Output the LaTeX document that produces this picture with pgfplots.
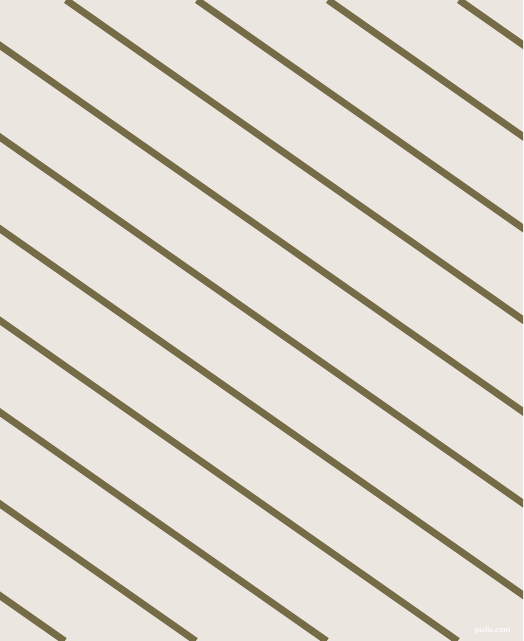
\documentclass[border=0pt]{standalone}
\usepackage{pgfplots}
\pgfplotsset{compat=1.18}
\definecolor{bg}{RGB}{236,230,225}
\definecolor{stripe}{RGB}{117,108,71}
\begin{document}
\begin{tikzpicture}
\begin{axis}[
    width=523pt, height=641pt, scale only axis,
    xmin=0, xmax=523, ymin=0, ymax=641,
    y dir=reverse,
    xtick=\empty, ytick=\empty,
    axis line style={draw=none},
    axis background/.style={fill=bg},
    stripe line/.style={draw=stripe, solid, line width=7pt, mark=none},
]
% each stripe: where it meets y=0 and y=641 (slope 0.7)
\addplot[stripe line] coordinates {(-851,0) (64.7,641)};
\addplot[stripe line] coordinates {(-720,0) (195.7,641)};
\addplot[stripe line] coordinates {(-589,0) (326.7,641)};
\addplot[stripe line] coordinates {(-458,0) (457.7,641)};
\addplot[stripe line] coordinates {(-327,0) (588.7,641)};
\addplot[stripe line] coordinates {(-196,0) (719.7,641)};
\addplot[stripe line] coordinates {(-65,0) (850.7,641)};
\addplot[stripe line] coordinates {(66,0) (981.7,641)};
\addplot[stripe line] coordinates {(197,0) (1112.7,641)};
\addplot[stripe line] coordinates {(328,0) (1243.7,641)};
\addplot[stripe line] coordinates {(459,0) (1374.7,641)};
\node[anchor=east, text=white, font=\sffamily\fontsize{8}{8}\selectfont\bfseries]
    at (axis cs:514,630) {pixlis.com};
\end{axis}
\end{tikzpicture}
\end{document}
